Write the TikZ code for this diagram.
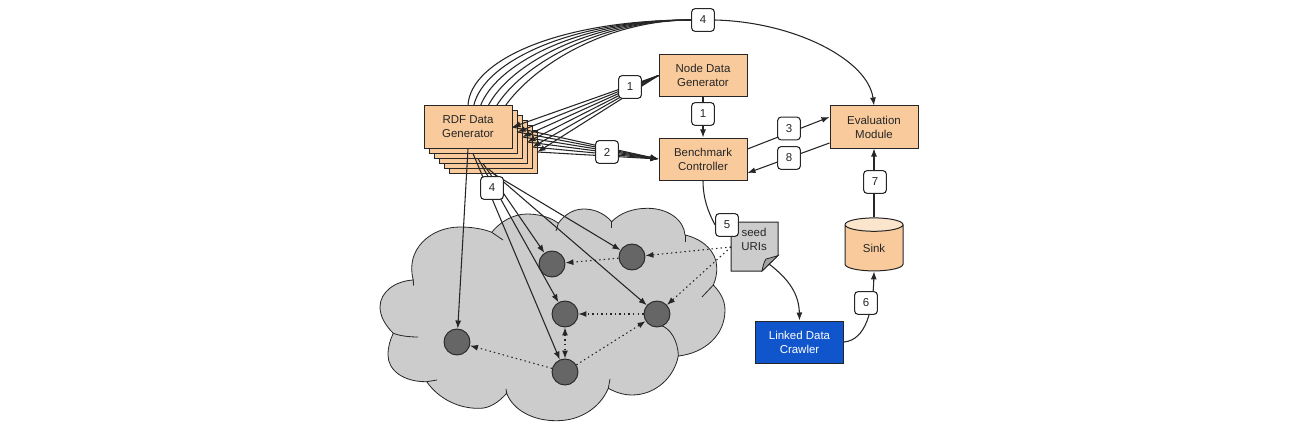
\documentclass[tikz,border=0pt]{standalone}
\usepackage{fontspec}
\setmainfont{Liberation Sans}
\usetikzlibrary{calc,arrows.meta,shapes.geometric,backgrounds}
\definecolor{boxorange}{HTML}{F9CB9C}
\definecolor{sinktop}{HTML}{FCE5CD}
\definecolor{cloudgrey}{HTML}{CCCCCC}
\definecolor{hostgrey}{HTML}{666666}
\definecolor{foldgrey}{HTML}{A3A3A3}
\definecolor{crawlerblue}{HTML}{1155CC}
\definecolor{linedark}{HTML}{262626}

\begin{document}
\begin{tikzpicture}[x=0.75pt, y=-0.75pt, font=\fontsize{8.6}{10.5}\selectfont,
      box/.style={draw=linedark, line width=0.75pt, fill=boxorange, align=center, text=black!85,
                  minimum width=66pt, minimum height=31.5pt, inner sep=0pt},
      num/.style={draw=linedark, line width=0.8pt, fill=white, rounded corners=2.5pt, text=black!85,
                  minimum width=17pt, minimum height=17pt, inner sep=0pt},
      host/.style={circle, draw=linedark, line width=0.7pt, fill=hostgrey, minimum size=19.5pt, inner sep=0pt},
      arr/.style={-{Latex[length=6pt,width=4.5pt]}, line width=0.8pt, linedark},
      plain/.style={line width=0.8pt, linedark},
      dots/.style={arr, dash pattern=on 1.1pt off 2.3pt},
      cloudline/.style={draw=linedark, line width=0.6pt}]
    \useasboundingbox (0,0) rectangle (1300,428);

    \path[cloudline, fill=cloudgrey] (413.3,280)
      .. controls (405,250) and (430,227) .. (460,227) .. controls (472,227) and (484,229) .. (491.7,232.3)
      .. controls (500,222) and (513,214) .. (527,214) .. controls (540,214) and (552,218) .. (558.3,223.3)
      .. controls (565,214) and (574,209) .. (584,209) .. controls (595,209) and (605,214) .. (611.7,221.7)
      .. controls (620,213) and (633,208.3) .. (647,208.3) .. controls (668,208) and (684,220) .. (685,235)
      .. controls (703,239) and (716.7,252) .. (716.7,267) .. controls (717,273) and (716,279) .. (713.3,285)
      .. controls (720,292) and (725,300) .. (725,310) .. controls (725,335) and (705,353) .. (678.3,356)
      .. controls (674,378) and (655,395) .. (632,395) .. controls (623,395) and (615,392) .. (608.3,388.3)
      .. controls (600,408) and (580,420.7) .. (557,420.7) .. controls (533,421) and (513,410) .. (506.7,393.3)
      .. controls (498,403) and (489,408.3) .. (480,408.3) .. controls (458,409) and (438,398) .. (426.7,381.7)
      .. controls (403,382) and (388,370) .. (388,355) .. controls (388,347) and (390,340) .. (393.3,333.3)
      .. controls (385,325) and (380,316) .. (380,307) .. controls (380,292) and (395,281) .. (413.3,280) -- cycle;
    \draw[cloudline] (413.3,280) -- (413.5,285.5);
    \draw[cloudline] (491.7,232.3) -- (503,240);
    \draw[cloudline] (558.3,223.3) -- (556,231);
    \draw[cloudline] (611.7,221.7) -- (611.7,228);
    \draw[cloudline] (685,235) -- (685,242);
    \draw[cloudline] (713.3,285) -- (702,297);
    \draw[cloudline] (678.3,356) .. controls (678,340) and (670,328) .. (660,325);
    \draw[cloudline] (608.3,388.3) -- (610,379);
    \draw[cloudline] (506.7,393.3) -- (506,389);
    \draw[cloudline] (426.7,381.7) -- (437,380);
    \draw[cloudline] (393.3,333.3) .. controls (400,336) and (410,337) .. (418,337);

    \node[num] (numtop) at (703,20) {4};
    \foreach \i in {5,4,...,1}
      \node[box] (rdf\i) at (468+5*\i,127+5*\i) {};
    \node[box] (rdf0) at (468,127) {RDF Data\\Generator};
    \begin{scope}[on background layer]
      \foreach \i in {0,...,5}
        \draw[plain] (rdf\i.north) .. controls (470+7*\i,60+5*\i) and (560+6*\i,20) .. (numtop.west);
    \end{scope}

    \node[box] (nodegen) at (703,75.5) {Node Data\\Generator};
    \node[box] (bench) at (703,159) {Benchmark\\Controller};
    \node[box] (eval) at (874,127) {Evaluation\\Module};
    \node[box, fill=crawlerblue, text=white] (crawler) at (799.5,342) {Linked Data\\Crawler};
    \node[cylinder, shape border rotate=90, aspect=0.6, draw=linedark, line width=0.75pt,
          cylinder uses custom fill, cylinder body fill=boxorange, cylinder end fill=sinktop,
          minimum width=43.5pt, minimum height=39.75pt, inner sep=0pt, text=black!85] (sink) at (874,248) {Sink};

    \draw[line width=0.75pt, linedark, fill=cloudgrey] (731,222) -- (778,222) -- (778,255.5) -- (762,271) -- (731,271) -- cycle;
    \draw[line width=0.6pt, linedark, fill=foldgrey] (762,271) .. controls (763,266) and (764,262) .. (766,259) .. controls (770,258) and (774,257) .. (778,255.5) -- cycle;
    \node[align=center, inner sep=0pt, text=black!85] (seed) at (754,239) {seed\\URIs};
    \coordinate (seedport) at (731,247);
    \coordinate (seedfold) at (769,264);

    \node[host] (hostleft) at (457,342) {};
    \node[host] (hostup) at (552,264) {};
    \node[host] (hostupright) at (632,257) {};
    \node[host] (hostmid) at (565,314) {};
    \node[host] (hostright) at (657,314) {};
    \node[host] (hostlow) at (565,372) {};

    \foreach \i in {0,...,5} {
      \draw[arr] (nodegen.west) -- (rdf\i.east);
      \draw[arr] (rdf\i.east) -- (bench.west);
    }
    \draw[arr] (rdf0.south) -- (hostleft);
    \draw[arr] (rdf1.south) -- (hostlow);
    \draw[arr] (rdf2.south) -- (hostmid);
    \draw[arr] (rdf3.south) -- (hostup);
    \draw[arr] (rdf4.south) -- (hostright);
    \draw[arr] (rdf5.south) -- (hostupright);

    \draw[arr] (numtop.east) .. controls (795,22) and (868,60) .. (eval.north);
    \draw[arr] (nodegen.south) -- (bench.north);
    \draw[arr] ([yshift=7.5pt]bench.east) -- ([yshift=7.5pt]eval.west);
    \draw[arr] ([yshift=-12pt]eval.west) -- ([yshift=-10.5pt]bench.east);
    \draw[arr] (sink.top) -- (eval.south);
    \draw[arr] (crawler.east) .. controls (866,340) and (873,310) .. (sink.bottom);
    \draw[arr] (seedfold) .. controls (790,280) and (799,295) .. (crawler.north);

    \draw[dots] (seedport) -- (hostupright);
    \draw[dots] (seedport) -- (hostright);
    \draw[dots] (hostupright) -- (hostup);
    \draw[dots] (hostright) -- (hostmid);
    \draw[dots] (hostlow) -- (hostright);
    \draw[dots] (hostlow) -- (hostleft);
    \draw[dots, {Latex[length=6pt,width=4.5pt]}-{Latex[length=6pt,width=4.5pt]}] (hostmid) -- (hostlow);

    \node[num] (numgen) at (630,87) {1};
    \node[num] (numbench) at (703,114) {1};
    \node[num] (numtwo) at (607,152) {2};
    \node[num] (numthree) at (789,128.5) {3};
    \node[num] (numeight) at (789,158) {8};
    \node[num] (numhosts) at (492,188) {4};
    \node[num] (numseven) at (875,182) {7};
    \node[num] (numsix) at (866,303) {6};
    \node[num] (numfive) at (727,225) {5};
    \draw[plain] (bench.south) .. controls (703,198) and (708,212) .. (numfive.west);
  \end{tikzpicture}
\end{document}
